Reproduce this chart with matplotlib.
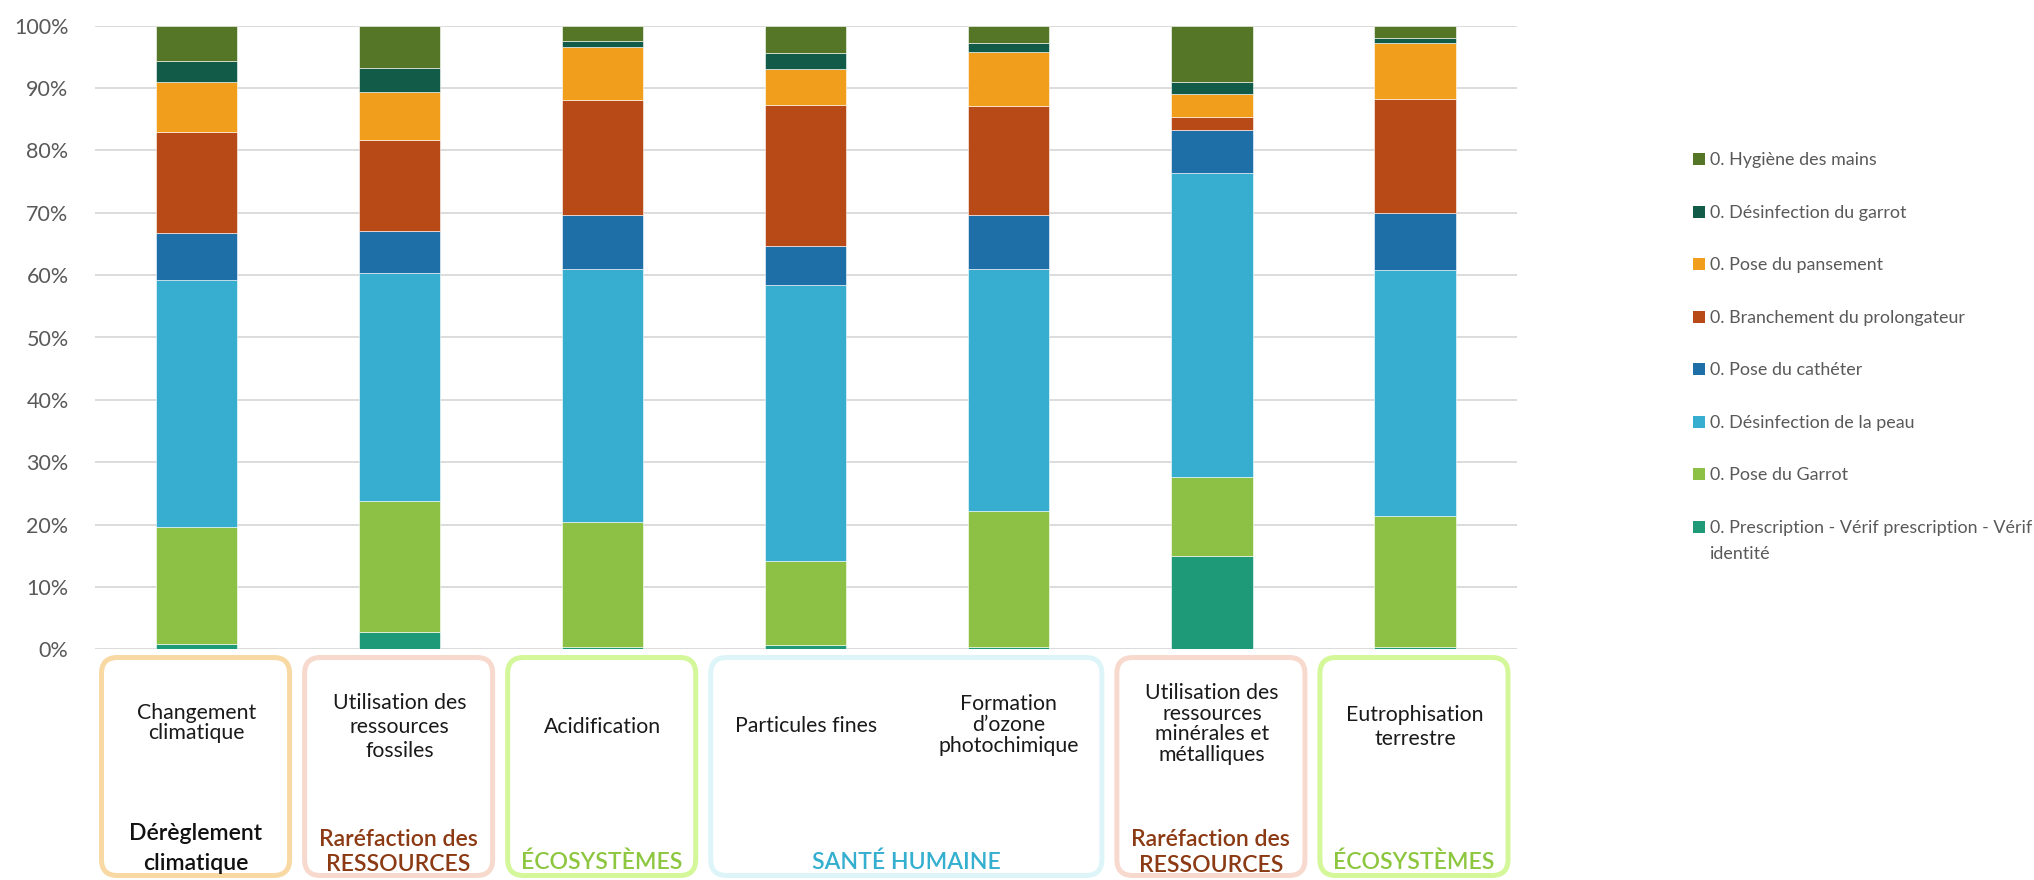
import matplotlib
matplotlib.use("Agg")
import matplotlib.pyplot as plt
from matplotlib.patches import FancyBboxPatch, Rectangle
import numpy as np

plt.rcParams['font.family'] = ['Lato', 'DejaVu Sans']

# ---------------- data ----------------
categories = ["Changement\nclimatique",
              "Utilisation des\nressources\nfossiles",
              "Acidification",
              "Particules fines",
              "Formation\nd\u2019ozone\nphotochimique",
              "Utilisation des\nressources\nminérales et\nmétalliques",
              "Eutrophisation\nterrestre"]

series_names = ["0. Prescription - Vérif prescription - Vérif\nidentité",
                "0. Pose du Garrot",
                "0. Désinfection de la peau",
                "0. Pose du cathéter",
                "0. Branchement du prolongateur",
                "0. Pose du pansement",
                "0. Désinfection du garrot",
                "0. Hygiène des mains"]

prescription = [0.8, 2.7, 0.4, 0.7, 0.3, 15.0, 0.3]
pose_garrot = [18.8, 21.1, 20.0, 13.4, 21.8, 12.6, 21.0]
desinf_peau = [39.7, 36.6, 40.6, 44.3, 38.9, 48.8, 39.5]
pose_catheter = [7.5, 6.6, 8.6, 6.2, 8.6, 6.9, 9.2]
branchement = [16.2, 14.6, 18.5, 22.7, 17.5, 2.0, 18.3]
pansement = [7.9, 7.7, 8.5, 5.7, 8.7, 3.7, 8.9]
desinf_garrot = [3.4, 3.9, 1.0, 2.6, 1.4, 1.9, 0.9]
hygiene = [5.7, 6.8, 2.4, 4.4, 2.8, 9.1, 1.9]

series_values = [prescription, pose_garrot, desinf_peau, pose_catheter,
                 branchement, pansement, desinf_garrot, hygiene]
series_colors = ["#1E9A78", "#8DC145", "#37AECF", "#1E6FA8",
                 "#B84A18", "#F09E1B", "#115B48", "#557627"]

yticks = list(range(0, 101, 10))
ytick_labels = [f"{v}%" for v in yticks]

# groups: (first idx, last idx, label lines, box colour, label colour)
groups = [(0, 0, ["Dérèglement", "climatique"], "#F9D9A3", "#111111"),
          (1, 1, ["Raréfaction des", "RESSOURCES"], "#F8D9CD", "#8B3A13"),
          (2, 2, ["ÉCOSYSTÈMES"], "#D4F79A", "#8DC63F"),
          (3, 4, ["SANTÉ HUMAINE"], "#DDF5F8", "#35AFCF"),
          (5, 5, ["Raréfaction des", "RESSOURCES"], "#F8D9CD", "#8B3A13"),
          (6, 6, ["ÉCOSYSTÈMES"], "#D4F79A", "#8DC63F")]

# ---------------- figure ----------------
W, H = 2034, 880
fig = plt.figure(figsize=(W / 100, H / 100), dpi=100)
ax_l, ax_r, ax_top, ax_bot = 95, 1516.5, 25.7, 649.3
ax = fig.add_axes([ax_l / W, 1 - ax_bot / H, (ax_r - ax_l) / W, (ax_bot - ax_top) / H])

x = np.arange(len(categories))
bottom = np.zeros(len(categories))
for vals, col, name in zip(series_values, series_colors, series_names):
    ax.bar(x, vals, width=0.4, bottom=bottom, color=col, edgecolor="#ffffff",
           linewidth=0.4, label=name, zorder=3)
    bottom += np.array(vals)

ax.set_xlim(-0.5, len(categories) - 0.5)
ax.set_ylim(0, 100)
ax.set_yticks(yticks)
ax.set_yticklabels(ytick_labels, fontsize=15.5, color="#595959")
ax.tick_params(axis='y', length=0, pad=19)
ax.set_xticks([])
ax.grid(axis='y', color="#D9D9D9", linewidth=1.3, zorder=0)
for s in ax.spines.values():
    s.set_visible(False)

# overlay in pixel coordinates
ov = fig.add_axes([0, 0, 1, 1], zorder=5)
ov.set_xlim(0, W)
ov.set_ylim(H, 0)
ov.axis('off')
ov.patch.set_alpha(0)

def px(xd):
    return float(ax.transData.transform((xd, 0))[0])

lw_px = 5.0
box_top, box_bottom = 655, 878
label_ys = [[832, 862], [838, 863], [861], [861], [838, 864], [861]]
for (i0, i1, lab, bcol, lcol), ys in zip(groups, label_ys):
    left = px(i0 - 0.5) + 4
    right = px(i1 + 0.5) - 6
    r = FancyBboxPatch((left + lw_px / 2, box_top + lw_px / 2),
                       right - left - lw_px, box_bottom - box_top - lw_px,
                       boxstyle="round,pad=0,rounding_size=16",
                       facecolor="white", edgecolor=bcol,
                       linewidth=lw_px * 72 / 100)
    ov.add_patch(r)
    cx = (left + right) / 2
    for yy, t in zip(ys, lab):
        ov.text(cx, yy + 8, t, ha='center', va='baseline', fontsize=16.6,
                color=lcol, fontweight='semibold')

# category texts
cat_y = [723, 727, 727, 726, 725, 724, 727]
cat_ls = [1.0, 1.25, 1.0, 1.0, 1.05, 1.05, 1.2]
for i, (c, yy, ls) in enumerate(zip(categories, cat_y, cat_ls)):
    ov.text(px(i), yy, c, ha='center', va='center', fontsize=15.3,
            color="#1a1a1a", linespacing=ls, multialignment='center')

# legend (top = last series)
leg_y = [159, 212, 264, 317, 369, 422, 474, 527]
for k, yy in enumerate(leg_y):
    si = len(series_names) - 1 - k
    ov.add_patch(Rectangle((1693, yy - 6), 12, 12, facecolor=series_colors[si],
                           edgecolor='none'))
    lines = series_names[si].split("\n")
    for j, t in enumerate(lines):
        ov.text(1710, yy + 6.3 + j * 26, t, ha='left', va='baseline',
                fontsize=12.9, color="#595959")

fig.savefig("out.png", dpi=100)
